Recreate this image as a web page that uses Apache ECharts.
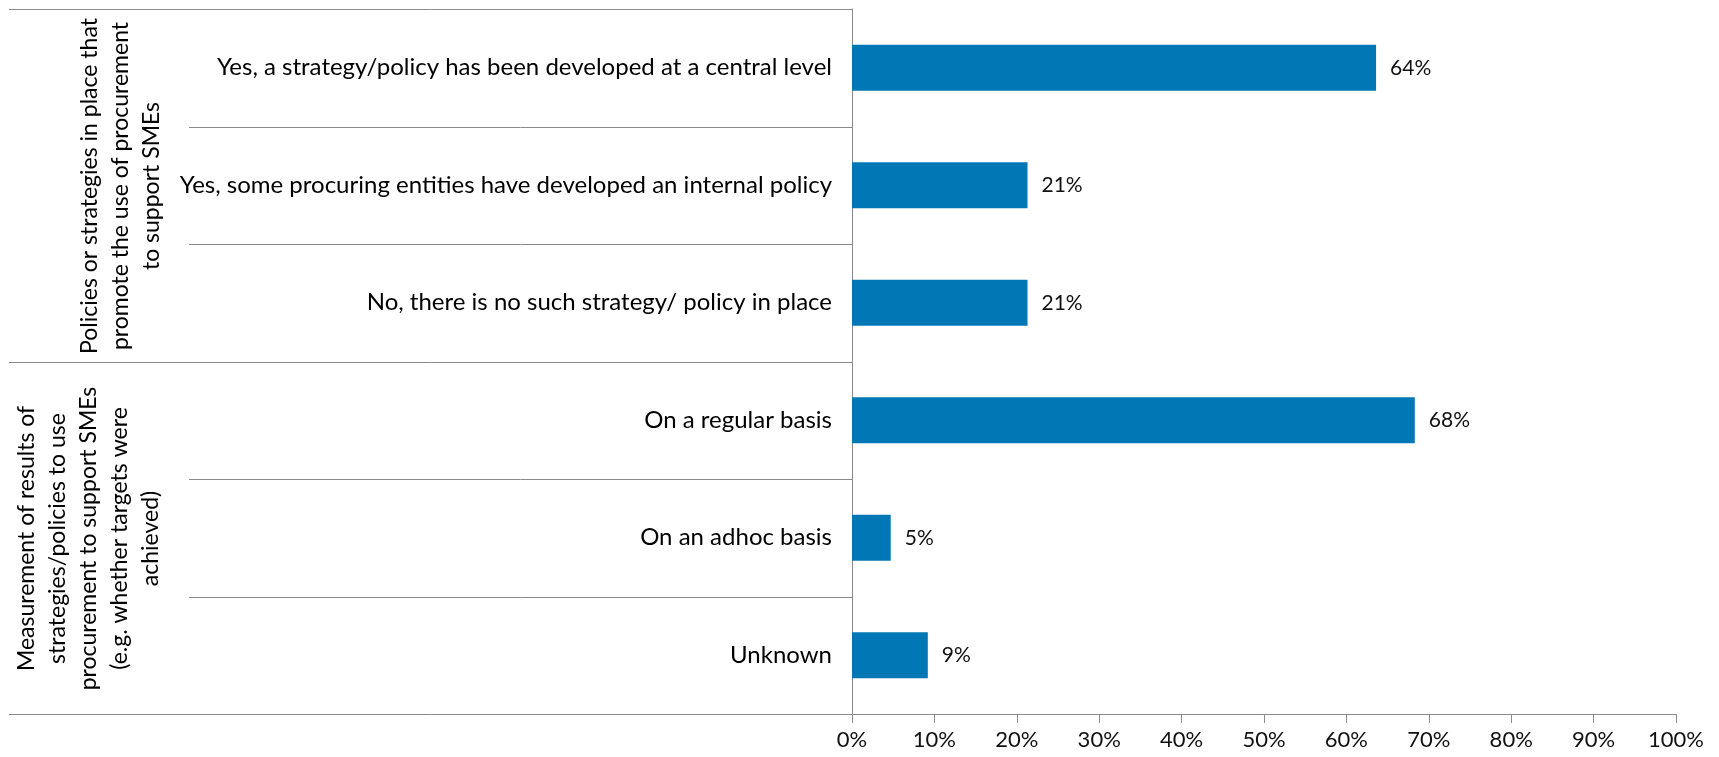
<!DOCTYPE html>
<html>
<head>
<meta charset="utf-8">
<script src="https://cdn.jsdelivr.net/npm/echarts@6/dist/echarts.min.js"></script>
<style>
  html, body { margin: 0; padding: 0; background: #fff; }
  #chart { width: 1719px; height: 757px; }
</style>
</head>
<body>
<div id="chart"></div>
<script>
// categories, top to bottom
var categories = [
  "Yes, a strategy/policy has been developed at a central level",
  "Yes, some procuring entities have developed an internal policy",
  "No, there is no such strategy/ policy in place",
  "On a regular basis",
  "On an adhoc basis",
  "Unknown"
];
// share of respondents, %
var values = [63.6, 21.3, 21.3, 68.3, 4.7, 9.2];
// group headings and how many categories each one covers
var groupLabels = [
  "Policies or strategies in place that\npromote the use of procurement\nto support SMEs",
  "Measurement of results of\nstrategies/policies to use\nprocurement to support SMEs\n(e.g. whether targets were\nachieved)"
];
var groupSizes = [3, 3];
var groupCenterX = [121, 89];
var tickMax = 100;

var FONT = "Lato, Carlito, 'Open Sans', sans-serif";
var lineColor = "#8a8a8a";

var chart = echarts.init(document.getElementById("chart"));

var option = {
  animation: false,
  grid: { left: 852, right: 43, top: 9, bottom: 43, containLabel: false },
  xAxis: {
    type: "value",
    min: 0,
    max: tickMax,
    interval: 10,
    axisLine: { show: true, lineStyle: { color: lineColor, width: 1 } },
    axisTick: { show: true, length: 9, lineStyle: { color: lineColor } },
    splitLine: { show: false },
    axisLabel: {
      formatter: "{value}%",
      color: "#111",
      fontFamily: FONT,
      fontSize: 22,
      margin: 15
    }
  },
  yAxis: {
    type: "category",
    inverse: true,
    data: categories,
    axisLine: { show: true, lineStyle: { color: lineColor, width: 1 } },
    axisTick: { show: false },
    axisLabel: {
      color: "#000",
      fontFamily: FONT,
      fontSize: 24,
      margin: 20
    }
  },
  series: [
    {
      type: "bar",
      data: values,
      barWidth: "39%",
      itemStyle: { color: "#0277b5" },
      label: {
        show: true,
        position: "right",
        distance: 14,
        color: "#111",
        fontFamily: FONT,
        fontSize: 21,
        formatter: function (p) {
          return Math.round(p.value) + "%";
        }
      }
    }
  ]
};
chart.setOption(option);

// separator lines and rotated group headings on the left
function drawLeft() {
  var yTop = chart.convertToPixel({ yAxisIndex: 0 }, 0);
  var y1 = chart.convertToPixel({ yAxisIndex: 0 }, 1);
  var band = y1 - yTop;
  var axisX = chart.convertToPixel({ xAxisIndex: 0 }, 0);
  var els = [];
  var start = 0;
  var edge = function (i) { return Math.round(yTop - band / 2 + band * i) + 0.5; };
  els.push({ type: "line", shape: { x1: 9, y1: edge(0), x2: axisX, y2: edge(0) }, style: { stroke: lineColor, lineWidth: 1 } });
  for (var g = 0; g < groupSizes.length; g++) {
    for (var k = 1; k < groupSizes[g]; k++) {
      var y = edge(start + k);
      els.push({ type: "line", shape: { x1: 189, y1: y, x2: axisX, y2: y }, style: { stroke: lineColor, lineWidth: 1 } });
    }
    var yEnd = edge(start + groupSizes[g]);
    els.push({ type: "line", shape: { x1: 9, y1: yEnd, x2: axisX, y2: yEnd }, style: { stroke: lineColor, lineWidth: 1 } });
    var mid = (edge(start) + yEnd) / 2;
    els.push({
      type: "text",
      x: groupCenterX[g],
      y: mid,
      rotation: Math.PI / 2,
      style: {
        text: groupLabels[g],
        fill: "#000",
        font: "23px " + FONT,
        align: "center",
        verticalAlign: "middle",
        lineHeight: 31
      }
    });
    start += groupSizes[g];
  }
  chart.setOption({ graphic: { elements: els } });
}
drawLeft();

window.onresize = function () {
  chart.resize();
  drawLeft();
};
</script>
</body>
</html>
